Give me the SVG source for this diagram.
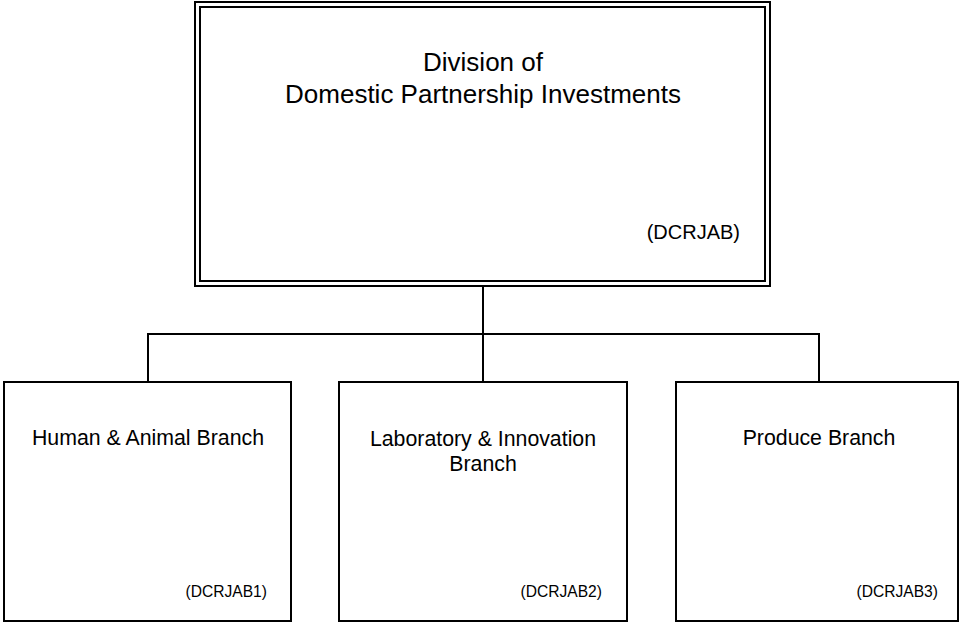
<svg xmlns="http://www.w3.org/2000/svg" width="961" height="622" viewBox="0 0 961 622">
<style>
  .box { fill: #ffffff; stroke: #000000; stroke-width: 2; }
  .frame { fill: none; stroke: #000000; stroke-width: 2; }
  .conn { fill: none; stroke: #000000; stroke-width: 2; }
  text { font-family: "Liberation Sans", Arial, sans-serif; fill: #000000; }
  .title { font-size: 26px; text-anchor: middle; }
  .name { font-size: 21.3px; text-anchor: middle; }
  .code { font-size: 20px; text-anchor: end; }
  .scode { font-size: 15.6px; text-anchor: end; }
</style>
<rect x="0" y="0" width="961" height="622" fill="#ffffff"/>
<g id="connectors">
  <path class="conn" d="M483,286 V382"/>
  <path class="conn" d="M148,382 V334 H819 V382"/>
</g>
<g id="division">
  <rect class="box" x="195" y="2" width="575" height="284"/>
  <rect class="frame" x="200" y="7" width="565" height="274"/>
  <text class="title" x="483" y="71">Division of</text>
  <text class="title" x="483" y="103">Domestic Partnership Investments</text>
  <text class="code" x="740" y="239">(DCRJAB)</text>
</g>
<g id="branch1">
  <rect class="box" x="4" y="382" width="287" height="239"/>
  <text class="name" x="148" y="445">Human &amp; Animal Branch</text>
  <text class="scode" x="267" y="597">(DCRJAB1)</text>
</g>
<g id="branch2">
  <rect class="box" x="339" y="382" width="288" height="239"/>
  <text class="name" x="483" y="446">Laboratory &amp; Innovation</text>
  <text class="name" x="483" y="471">Branch</text>
  <text class="scode" x="602" y="597">(DCRJAB2)</text>
</g>
<g id="branch3">
  <rect class="box" x="676" y="382" width="282" height="239"/>
  <text class="name" x="819" y="445">Produce Branch</text>
  <text class="scode" x="938" y="597">(DCRJAB3)</text>
</g>
</svg>
